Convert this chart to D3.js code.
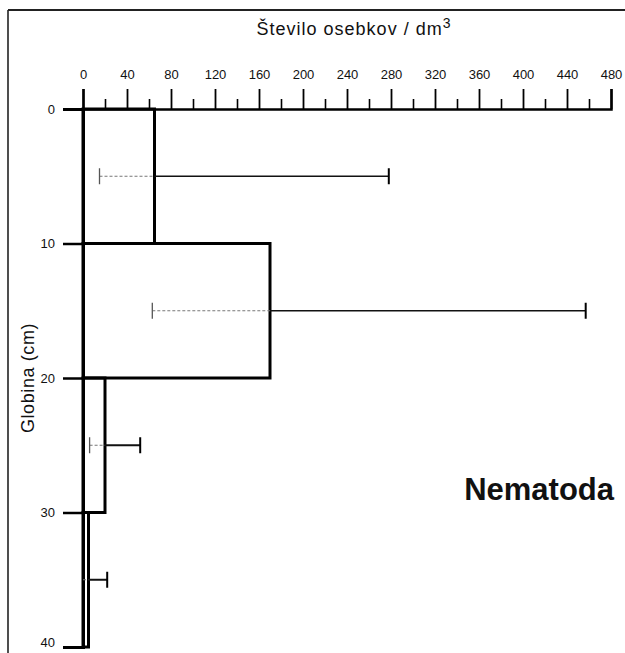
<!DOCTYPE html>
<html>
<head>
<meta charset="utf-8">
<script src="https://cdn.jsdelivr.net/npm/d3@7"></script>
<style>
  html, body { margin: 0; padding: 0; background: #fff; }
  svg { display: block; font-family: "Liberation Sans", Arial, sans-serif; }
</style>
</head>
<body>
<svg id="chart" width="625" height="653"></svg>
<script>
// ---- data ----
const layerTop    = [0, 10, 20, 30];          // depth (cm)
const layerBottom = [10, 20, 30, 40];
const meanCount   = [65, 170, 20, 5];         // individuals / dm3
const errLow      = [15, 63, 6, 0];
const errHigh     = [278, 457, 52, 22];
const xTicks      = [0, 40, 80, 120, 160, 200, 240, 280, 320, 360, 400, 440, 480];
const xTickLabels = ["0", "40", "80", "120", "160", "200", "240", "280", "320", "360", "400", "440", "480"];
const xMinorTicks = [20, 60, 100, 140, 180, 220, 260, 300, 340, 380, 420, 460];
const yTicks      = [0, 10, 20, 30, 40];
const yTickLabels = ["0", "10", "20", "30", "40"];
const xTitle = "Število osebkov / dm";
const yTitle = "Globina (cm)";
const panelLabel = "Nematoda";

const svg = d3.select("#chart");

const x = d3.scaleLinear().domain([0, 480]).range([83, 611]);
const y = d3.scaleLinear().domain([0, 40]).range([109, 647]);

// frame
svg.append("line").attr("x1", 8).attr("x2", 8).attr("y1", 10).attr("y2", 653)
  .attr("stroke", "#222").attr("stroke-width", 1.6);
svg.append("line").attr("x1", 8).attr("x2", 625).attr("y1", 10).attr("y2", 10)
  .attr("stroke", "#222").attr("stroke-width", 2);

// x title
const t = svg.append("text").attr("x", 354).attr("y", 35).attr("text-anchor", "middle")
  .attr("font-size", 18).attr("letter-spacing", 1).attr("fill", "#111");
t.append("tspan").text(xTitle);
t.append("tspan").attr("dy", -7).attr("font-size", 14).text("3");

// x axis (top)
const gx = svg.append("g").attr("transform", `translate(0,${y(0)})`);
gx.call(d3.axisTop(x).tickValues(xTicks).tickSize(20).tickPadding(10)
  .tickFormat((d, i) => xTickLabels[i]));
gx.select(".domain").attr("stroke", "#000").attr("stroke-width", 2.5);
gx.selectAll(".tick line").attr("stroke", "#000").attr("stroke-width", 1.8);
gx.selectAll(".tick text").attr("font-size", 13).attr("fill", "#111")
  .attr("font-family", "'Liberation Sans', Arial, sans-serif");

const gxm = svg.append("g").attr("transform", `translate(0,${y(0)})`);
gxm.call(d3.axisTop(x).tickValues(xMinorTicks).tickSize(10).tickFormat(""));
gxm.select(".domain").remove();
gxm.selectAll(".tick line").attr("stroke", "#000").attr("stroke-width", 1.6);

// y axis (left)
const gy = svg.append("g").attr("transform", `translate(${x(0)},0)`);
gy.call(d3.axisLeft(y).tickValues(yTicks).tickSize(20).tickPadding(8)
  .tickFormat((d, i) => yTickLabels[i]));
gy.select(".domain").attr("stroke", "#000").attr("stroke-width", 3);
gy.selectAll(".tick line").attr("stroke", "#000").attr("stroke-width", 2.5);
gy.selectAll(".tick text").attr("font-size", 13).attr("fill", "#111")
  .attr("font-family", "'Liberation Sans', Arial, sans-serif");
// keep the bottom label inside the picture
gy.selectAll(".tick text").filter(d => d === 40).attr("dy", "-0.05em");

// y title
svg.append("text")
  .attr("transform", "translate(34,378) rotate(-90)")
  .attr("text-anchor", "middle").attr("font-size", 18).attr("letter-spacing", 0.6)
  .attr("fill", "#111").text(yTitle);

// step profile bars
svg.append("g").selectAll("rect").data(meanCount).join("rect")
  .attr("x", x(0))
  .attr("y", (d, i) => y(layerTop[i]))
  .attr("width", d => x(d) - x(0))
  .attr("height", (d, i) => y(layerBottom[i]) - y(layerTop[i]))
  .attr("fill", "none").attr("stroke", "#000").attr("stroke-width", 3);

// error bars
const eb = svg.append("g");
meanCount.forEach((m, i) => {
  const yc = y((layerTop[i] + layerBottom[i]) / 2);
  // inside part (lighter, dotted)
  eb.append("line").attr("x1", x(errLow[i])).attr("x2", x(m)).attr("y1", yc).attr("y2", yc)
    .attr("stroke", "#777").attr("stroke-width", 1).attr("stroke-dasharray", "3,2");
  // outside part
  eb.append("line").attr("x1", x(m)).attr("x2", x(errHigh[i])).attr("y1", yc).attr("y2", yc)
    .attr("stroke", "#111").attr("stroke-width", i < 2 ? 1.3 : 2);
  // caps
  if (errLow[i] > 0) {
    eb.append("line").attr("x1", x(errLow[i])).attr("x2", x(errLow[i]))
      .attr("y1", yc - 8).attr("y2", yc + 8).attr("stroke", "#555").attr("stroke-width", 1.3);
  }
  eb.append("line").attr("x1", x(errHigh[i])).attr("x2", x(errHigh[i]))
    .attr("y1", yc - 8).attr("y2", yc + 8).attr("stroke", "#000").attr("stroke-width", 2);
});

// panel label
svg.append("text").attr("x", 614).attr("y", 500).attr("text-anchor", "end")
  .attr("font-size", 31).attr("font-weight", "bold").attr("fill", "#111").text(panelLabel);
</script>
</body>
</html>
